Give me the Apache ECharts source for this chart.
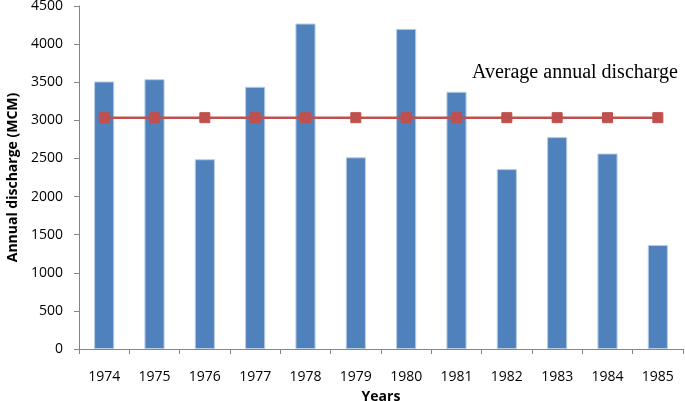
<!DOCTYPE html>
<html>
<head>
<meta charset="utf-8">
<script src="https://cdn.jsdelivr.net/npm/echarts@6/dist/echarts.min.js"></script>
<style>
    html, body { margin: 0; padding: 0; background: #fff; }
    #chart { width: 685px; height: 401px; }
</style>
</head>
<body>
<div id="chart"></div>
<script>
const years = ['1974', '1975', '1976', '1977', '1978', '1979', '1980', '1981', '1982', '1983', '1984', '1985'];
const discharge = [3510, 3540, 2490, 3440, 4270, 2515, 4200, 3375, 2360, 2780, 2565, 1365];
const average = [3035, 3035, 3035, 3035, 3035, 3035, 3035, 3035, 3035, 3035, 3035, 3035];

const yMin = 0;
const yMax = 4500;
const yInterval = 500;

const chart = echarts.init(document.getElementById('chart'));

const option = {
    animation: false,
    backgroundColor: '#ffffff',
    grid: {
        left: 79,
        right: 2,
        top: 6,
        bottom: 52,
        outerBoundsMode: 'none'
    },
    graphic: [
        {
            type: 'text',
            left: 472,
            top: 63,
            style: {
                text: 'Average annual discharge',
                font: '20px "Liberation Serif", serif',
                fill: '#000000'
            }
        }
    ],
    xAxis: {
        type: 'category',
        data: years,
        name: 'Years',
        nameLocation: 'middle',
        nameGap: 41,
        nameTextStyle: {
            fontFamily: '"Open Sans", sans-serif',
            fontWeight: 'bold',
            fontSize: 14,
            color: '#000'
        },
        axisLine: { lineStyle: { color: '#868686', width: 1 } },
        axisTick: { show: true, length: 5, lineStyle: { color: '#868686' } },
        axisLabel: {
            interval: 0,
            margin: 21,
            fontFamily: '"Open Sans", sans-serif',
            fontSize: 14,
            color: '#000'
        }
    },
    yAxis: {
        type: 'value',
        min: yMin,
        max: yMax,
        interval: yInterval,
        name: 'Annual discharge (MCM)',
        nameLocation: 'middle',
        nameGap: 58,
        nameTextStyle: {
            fontFamily: '"Open Sans", sans-serif',
            fontWeight: 'bold',
            fontSize: 14,
            color: '#000'
        },
        axisLine: { show: true, lineStyle: { color: '#868686', width: 1 } },
        axisTick: { show: true, length: 5, lineStyle: { color: '#868686' } },
        axisLabel: {
            margin: 16,
            fontFamily: '"Open Sans", sans-serif',
            fontSize: 14,
            color: '#000',
            formatter: v => String(v)
        },
        splitLine: { show: false }
    },
    series: [
        {
            name: 'Annual discharge',
            type: 'bar',
            data: discharge,
            barWidth: '40%',
            itemStyle: {
                color: '#4F81BD',
                borderColor: '#B9CDE5',
                borderWidth: 1
            }
        },
        {
            name: 'Average annual discharge',
            type: 'line',
            data: average,
            symbol: 'rect',
            symbolSize: 10,
            lineStyle: { color: '#C0504D', width: 2.5 },
            itemStyle: { color: '#C0504D', borderColor: '#C0504D' },
            z: 5
        }
    ]
};

chart.setOption(option);
</script>
</body>
</html>
